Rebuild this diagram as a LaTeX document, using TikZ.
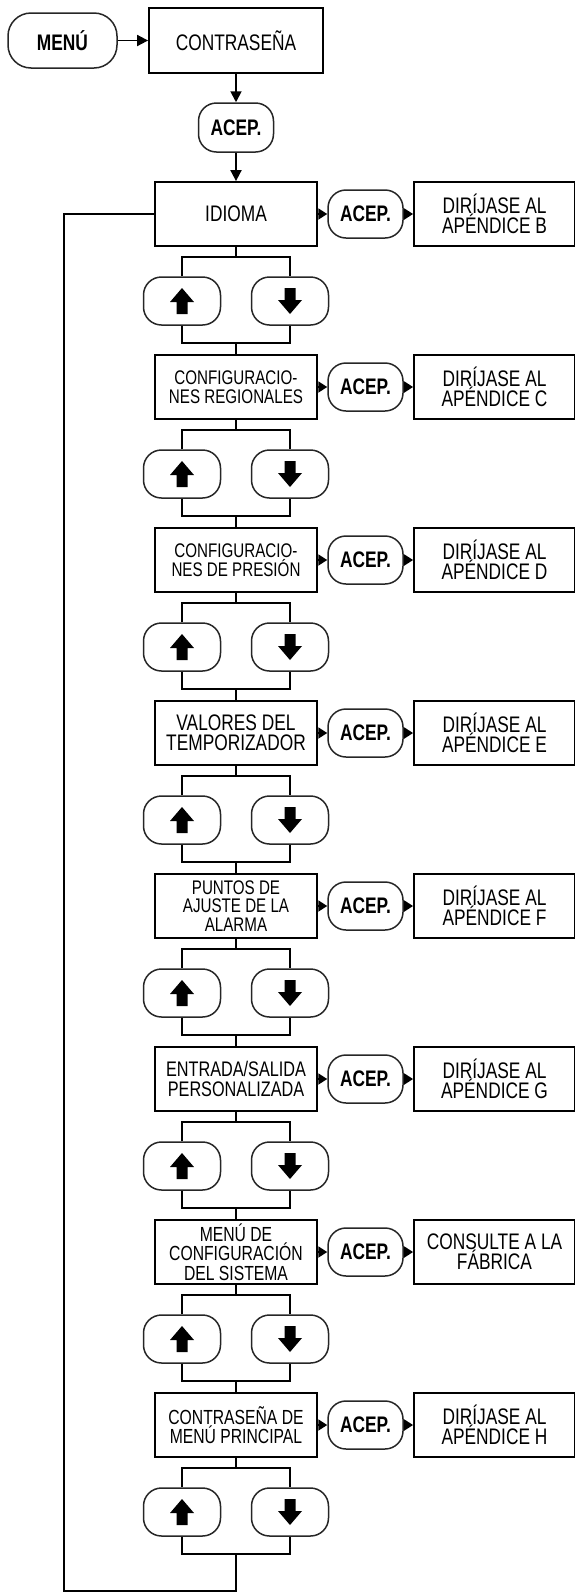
\documentclass[tikz,border=0pt]{standalone}
\usepackage{fontspec}
\setmainfont{Liberation Sans}[FakeStretch=0.77]
\usetikzlibrary{arrows.meta}
% text sizes used in the boxes
\newcommand\txtbig{\fontsize{22.5}{20}\selectfont}
\newcommand\txtmid{\fontsize{21.1}{20}\selectfont}
\newcommand\txtsm{\fontsize{20.4}{19.5}\selectfont}
\newcommand\txtxs{\fontsize{19.7}{18.5}\selectfont}
\begin{document}
\begin{tikzpicture}[x=1pt,y=-1pt,
  line width=1.8pt,
  box/.style={draw, rectangle, minimum width=162pt, minimum height=64pt, align=center, inner sep=1pt},
  target/.style={draw, rectangle, minimum width=161pt, minimum height=64pt, align=center, inner sep=1pt, font=\txtbig},
  key/.style={draw=black!85, line width=1.5pt, rounded corners=18pt, minimum height=48pt, inner sep=0pt},
  acep/.style={key, minimum width=75pt, font=\txtbig\bfseries},
  navkey/.style={key, minimum width=77pt},
  flow/.style={-{Triangle[length=11pt,width=11pt]}},
  side/.style={-{Triangle[length=9pt,width=11pt]}},
  uparr/.pic={\fill (0,-13) -- (12,1) -- (5.5,1) -- (5.5,13) -- (-5.5,13) -- (-5.5,1) -- (-12,1) -- cycle;},
  dnarr/.pic={\fill (0,13) -- (12,-1) -- (5.5,-1) -- (5.5,-13) -- (-5.5,-13) -- (-5.5,-1) -- (-12,-1) -- cycle;},
]
\useasboundingbox (0,0) rectangle (574,1596);

% entry: menu key, password, accept
\node[key, minimum width=109pt, minimum height=55pt, rounded corners=23pt, font=\txtbig\bfseries] (menu) at (62.5,40.5) {MENÚ};
\node[box, minimum width=174pt, minimum height=65pt, font=\txtbig] (pw) at (236,40.5) {CONTRASEÑA};
\node[acep, minimum height=49pt] (a0) at (236,127.5) {ACEP.};

% menu items, each with accept key, destination and up/down keys
\foreach \i/\fs/\txt/\dest in {
  1/\txtbig/{IDIOMA}/{DIRÍJASE AL\\APÉNDICE B},
  2/\txtxs/{CONFIGURACIO-\\NES REGIONALES}/{DIRÍJASE AL\\APÉNDICE C},
  3/\txtxs/{CONFIGURACIO-\\NES DE PRESIÓN}/{DIRÍJASE AL\\APÉNDICE D},
  4/\txtbig/{VALORES DEL\\TEMPORIZADOR}/{DIRÍJASE AL\\APÉNDICE E},
  5/\txtxs/{PUNTOS DE\\AJUSTE DE LA\\ALARMA}/{DIRÍJASE AL\\APÉNDICE F},
  6/\txtmid/{ENTRADA/SALIDA\\PERSONALIZADA}/{DIRÍJASE AL\\APÉNDICE G},
  7/\txtsm/{MENÚ DE\\CONFIGURACIÓN\\DEL SISTEMA}/{CONSULTE A LA\\FÁBRICA},
  8/\txtsm/{CONTRASEÑA DE\\MENÚ PRINCIPAL}/{DIRÍJASE AL\\APÉNDICE H}}
{
  \pgfmathsetmacro\t{182+173*(\i-1)}
  \node[box, font=\fs] (b\i) at (236,\t+32) {\txt};
  \node[acep] (a\i) at (365.5,\t+32) {ACEP.};
  \node[target] (r\i) at (494.5,\t+32) {\dest};
  \node[navkey] (u\i) at (182,\t+119) {};
  \node[navkey] (d\i) at (290,\t+119) {};
  \pic at (u\i) {uparr};
  \pic at (d\i) {dnarr};
  \coordinate (s\i) at (236,\t+75);
  \coordinate (j\i) at (236,\t+161);
  \draw (b\i) -- (s\i);
  \draw (u\i.north) |- (s\i) -| (d\i.north);
  \draw (u\i.south) |- (j\i) -| (d\i.south);
  \draw[side] (b\i) -- (a\i);
  \draw[side] (a\i) -- (r\i);
}

% links between consecutive items
\foreach \i [evaluate=\i as \k using int(\i+1)] in {1,...,7}
  \draw (j\i) -- (b\k);

% entry arrows
\draw[flow] (menu) -- (pw);
\draw[flow] (pw) -- (a0);
\draw[flow] (a0) -- (b1);

% return loop from the last item back to the first
\coordinate (lb) at (236,1591);
\coordinate (lc) at (64,1591);
\draw (j8) -- (lb) -- (lc) |- (b1.west);
\end{tikzpicture}
\end{document}
